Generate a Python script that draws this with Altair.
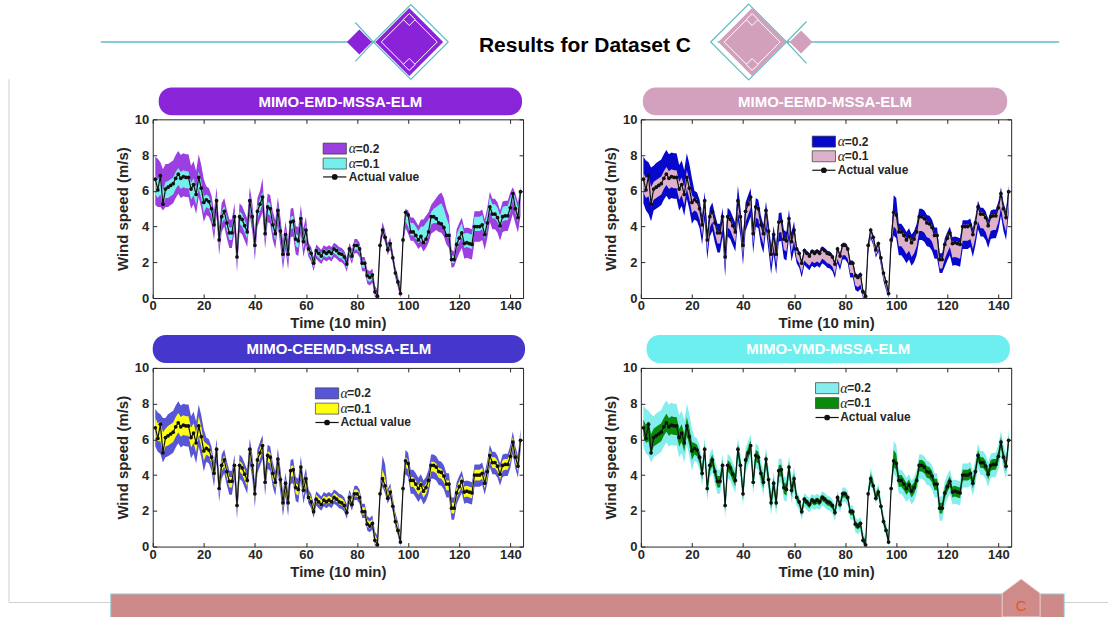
import altair as alt
import pandas as pd

# ---------------- data ----------------
t_actual = list(range(1, 145))
actual = [
    6.65, 6.05, 6.85, 5.25, 6.10, 6.20, 6.30, 6.40, 6.70, 6.93,
    6.70, 6.80, 6.75, 6.75, 6.10, 6.35, 5.80, 6.75, 6.15, 5.35,
    5.50, 5.40, 5.00, 4.10, 5.45, 3.25, 4.55, 4.85, 4.20, 3.65,
    3.65, 4.55, 2.30, 4.55, 4.40, 4.05, 3.70, 5.45, 4.55, 2.95,
    4.85, 5.25, 5.65, 3.60, 5.10, 5.00, 4.10, 3.60, 4.90, 3.75,
    2.45, 3.55, 2.45, 4.25, 4.30, 3.30, 3.20, 4.45, 3.15, 3.80,
    2.75, 2.50, 1.95, 2.65, 2.50, 2.35, 2.60, 2.50, 2.60, 2.50,
    2.75, 2.65, 2.50, 2.45, 2.30, 1.90, 2.75, 2.35, 2.95, 2.95,
    2.75, 1.95, 1.95, 1.25, 1.15, 1.30, 0.35, 0.10, 2.95, 3.80,
    3.40, 2.70, 3.05, 2.25, 1.40, 0.90, 0.25, 3.25, 4.80, 4.65,
    3.70, 3.70, 3.50, 3.25, 3.45, 3.10, 3.30, 3.70, 4.55, 4.55,
    4.45, 4.20, 4.15, 3.95, 3.50, 3.50, 2.15, 2.15, 3.00, 3.35,
    3.65, 3.05, 3.10, 3.05, 3.00, 4.00, 4.00, 4.00, 4.10, 3.55,
    4.20, 5.10, 4.70, 4.70, 4.50, 4.05, 4.55, 4.60, 4.60, 5.05,
    5.85, 5.00, 4.50, 5.95,
]

# MIMO-EMD-MSSA-ELM
p1_hi2 = [7.9, 7.8, 7.6, 7.2, 7.5, 7.5, 7.6, 7.7, 8.0, 8.23, 8.0, 8.1, 8.05, 8.05, 7.4, 7.65, 7.1, 8.05, 7.45, 6.65,
          6.25, 6.15, 5.75, 4.85, 6.2, 4.0, 5.3, 5.6, 4.95, 4.4, 4.4, 5.3, 3.05, 5.3, 5.15, 4.8, 4.45, 6.2, 5.3, 3.7,
          5.6, 6.0, 6.7, 4.35, 5.85, 5.75, 4.85, 4.35, 5.65, 4.5, 3.2, 4.3, 3.2, 5.0, 5.05, 4.05, 3.95, 5.2, 3.9, 4.55,
          3.1, 2.85, 2.3, 3.0, 2.85, 2.7, 2.95, 2.85, 2.95, 2.85, 3.1, 3.0, 2.85, 2.8, 2.65, 2.25, 3.1, 2.7, 3.3, 3.3,
          3.1, 2.3, 2.3, 1.6, 1.5, 1.65,
          0.7, 0.45, 3.3, 4.25, 3.75, 3.05, 3.4, 2.6, 1.75, 1.25, 0.6, 3.6,
          5.0, 4.9, 4.5, 4.5, 4.3, 4.05, 4.4, 4.4, 4.6, 4.8, 5.2, 5.4, 5.6, 5.8, 5.9, 5.6, 5.0, 4.6,
          2.7, 2.6, 3.85, 4.2, 4.5, 3.9, 3.95, 3.9, 3.85, 4.85, 4.85, 4.85, 4.95, 4.4, 5.05, 5.95, 5.55, 5.55, 5.35, 4.9,
          5.4, 5.45, 5.45, 5.9, 6.2, 5.85, 5.35, 6.2]
p1_hi1 = [6.9, 6.6, 6.9, 6.0, 6.5, 6.55, 6.65, 6.75, 7.05, 7.28, 7.05, 7.15, 7.1, 7.1, 6.45, 6.7, 6.15, 7.1, 6.5, 5.7,
          5.8, 5.7, 5.3, 4.4, 5.75, 3.55, 4.85, 5.15, 4.5, 3.95, 3.95, 4.85, 2.6, 4.85, 4.7, 4.35, 4.0, 5.75, 4.85, 3.25,
          5.15, 5.55, 5.95, 3.9, 5.4, 5.3, 4.4, 3.9, 5.2, 4.05, 2.75, 3.85, 2.75, 4.55, 4.6, 3.6, 3.5, 4.75, 3.45, 4.1,
          2.9, 2.65, 2.1, 2.8, 2.65, 2.5, 2.75, 2.65, 2.75, 2.65, 2.9, 2.8, 2.65, 2.6, 2.45, 2.05, 2.9, 2.5, 3.1, 3.1,
          2.9, 2.1, 2.1, 1.4, 1.3, 1.45,
          0.5, 0.25, 3.1, 3.95, 3.55, 2.85, 3.2, 2.4, 1.55, 1.05, 0.4, 3.4,
          4.85, 4.7, 4.2, 4.2, 4.0, 3.75, 4.0, 4.0, 4.2, 4.4, 4.8, 5.0, 5.1, 5.2, 5.3, 5.0, 4.5, 4.1,
          2.4, 2.35, 3.55, 3.9, 4.2, 3.6, 3.65, 3.6, 3.55, 4.55, 4.55, 4.55, 4.65, 4.1, 4.75, 5.65, 5.25, 5.25, 5.05, 4.6,
          5.1, 5.15, 5.15, 5.6, 6.0, 5.55, 5.05, 6.05]
p1_lo1 = [5.8, 5.6, 5.8, 5.2, 5.6, 5.6, 5.7, 5.8, 6.1, 6.33, 6.1, 6.2, 6.15, 6.15, 5.5, 5.75, 5.2, 6.15, 5.55, 4.75,
          5.1, 5.0, 4.6, 3.7, 5.05, 2.85, 4.15, 4.45, 3.8, 3.25, 3.25, 4.15, 1.9, 4.15, 4.0, 3.65, 3.3, 5.05, 4.15, 2.55,
          4.45, 4.85, 5.25, 3.2, 4.7, 4.6, 3.7, 3.2, 4.5, 3.35, 2.05, 3.15, 2.05, 3.85, 3.9, 2.9, 2.8, 4.05, 2.75, 3.4,
          2.5, 2.25, 1.7, 2.4, 2.25, 2.1, 2.35, 2.25, 2.35, 2.25, 2.5, 2.4, 2.25, 2.2, 2.05, 1.65, 2.5, 2.1, 2.7, 2.7,
          2.5, 1.7, 1.7, 1.0, 0.9, 1.05,
          0.2, 0.0, 2.8, 3.65, 3.25, 2.55, 2.9, 2.1, 1.25, 0.75, 0.1, 3.1,
          4.3, 4.0, 3.5, 3.5, 3.3, 3.05, 3.25, 2.95, 3.15, 3.5, 4.1, 4.2, 4.2, 4.15, 4.1, 3.9, 3.45, 3.3,
          1.95, 1.95, 2.75, 3.1, 3.4, 2.8, 2.85, 2.8, 2.75, 3.75, 3.75, 3.75, 3.85, 3.3, 3.95, 4.85, 4.45, 4.45, 4.25, 3.8,
          4.3, 4.35, 4.35, 4.8, 5.5, 4.75, 4.25, 5.6]
p1_lo2 = [5.2, 5.1, 5.1, 4.9, 5.1, 5.1, 5.2, 5.3, 5.6, 5.83, 5.6, 5.7, 5.65, 5.65, 5.0, 5.25, 4.7, 5.65, 5.05, 4.25,
          4.65, 4.55, 4.15, 3.25, 4.6, 2.4, 3.7, 4.0, 3.35, 2.8, 2.8, 3.7, 1.45, 3.7, 3.55, 3.2, 2.85, 4.6, 3.7, 2.1,
          4.0, 4.4, 4.8, 2.75, 4.25, 4.15, 3.25, 2.75, 4.05, 2.9, 1.6, 2.7, 1.6, 3.4, 3.45, 2.45, 2.35, 3.6, 2.3, 2.95,
          2.3, 2.05, 1.5, 2.2, 2.05, 1.9, 2.15, 2.05, 2.15, 2.05, 2.3, 2.2, 2.05, 2.0, 1.85, 1.45, 2.3, 1.9, 2.5, 2.5,
          2.3, 1.5, 1.5, 0.8, 0.7, 0.85,
          0.05, 0.0, 2.65, 3.5, 3.1, 2.4, 2.75, 1.95, 1.1, 0.6, 0.0, 2.95,
          3.9, 3.6, 3.2, 3.2, 3.0, 2.75, 2.9, 2.6, 2.8, 3.1, 3.6, 3.7, 3.8, 3.7, 3.65, 3.45, 3.0, 2.8,
          1.7, 1.75, 2.15, 2.5, 2.8, 2.2, 2.25, 2.2, 2.15, 3.15, 3.15, 3.15, 3.25, 2.7, 3.35, 4.25, 3.85, 3.85, 3.65, 3.2,
          3.7, 3.75, 3.75, 4.2, 4.7, 4.15, 3.65, 4.6]

# MIMO-EEMD-MSSA-ELM
p2_hi2 = [7.9, 7.7, 7.6, 7.3, 7.4, 7.55, 7.65, 7.75, 8.05, 8.28, 8.05, 8.15, 8.1, 8.1, 7.45, 7.7, 7.15, 8.1, 7.5, 6.7,
          6.0, 5.9, 5.5, 4.6, 5.95, 3.75, 5.05, 5.35, 4.7, 4.15, 4.15, 5.05, 2.8, 5.05, 4.9, 4.55, 4.2, 6.3, 5.05, 3.45,
          5.35, 5.75, 6.15, 4.1, 5.6, 5.5, 4.6, 4.1, 5.4, 4.25, 2.95, 4.05, 2.95, 4.75, 4.8, 3.8, 3.7, 4.95, 3.65, 4.3,
          2.9, 2.65, 2.1, 2.8, 2.65, 2.5, 2.75, 2.65, 2.75, 2.65, 2.9, 2.8, 2.65, 2.6, 2.45, 2.05, 2.9, 2.5, 3.1, 3.1,
          2.9, 2.1, 2.1, 1.4, 1.3, 1.45,
          0.5, 0.25, 3.1, 3.95, 3.55, 2.85, 3.2, 2.4, 1.55, 1.05, 0.4, 3.4,
          5.75, 5.6, 4.15, 4.15, 3.95, 3.7, 3.9, 3.55, 3.75, 4.15, 5.0, 5.0, 4.9, 4.65, 4.6, 4.4, 3.95, 3.95,
          2.5, 2.5, 3.35, 3.7, 4.0, 3.4, 3.45, 3.4, 3.35, 4.35, 4.35, 4.35, 4.45, 3.9, 4.55, 5.45, 5.05, 5.05, 4.85, 4.4,
          4.9, 4.95, 4.95, 5.4, 6.2, 5.35, 4.85, 6.3]
p2_hi1 = [7.0, 6.7, 6.9, 6.2, 6.5, 6.6, 6.7, 6.8, 7.1, 7.33, 7.1, 7.2, 7.15, 7.15, 6.5, 6.75, 6.2, 7.15, 6.55, 5.75,
          5.6, 5.5, 5.1, 4.2, 5.55, 3.35, 4.65, 4.95, 4.3, 3.75, 3.75, 4.65, 2.4, 4.65, 4.5, 4.15, 3.8, 5.55, 4.65, 3.05,
          4.95, 5.35, 5.75, 3.7, 5.2, 5.1, 4.2, 3.7, 5.0, 3.85, 2.55, 3.65, 2.55, 4.35, 4.4, 3.4, 3.3, 4.55, 3.25, 3.9,
          2.8, 2.55, 2.0, 2.7, 2.55, 2.4, 2.65, 2.55, 2.65, 2.55, 2.8, 2.7, 2.55, 2.5, 2.35, 1.95, 2.8, 2.4, 3.0, 3.0,
          2.8, 2.0, 2.0, 1.3, 1.2, 1.35,
          0.4, 0.15, 3.0, 3.85, 3.45, 2.75, 3.1, 2.3, 1.45, 0.95, 0.3, 3.3,
          4.9, 4.75, 3.8, 3.8, 3.6, 3.35, 3.55, 3.2, 3.4, 3.8, 4.65, 4.65, 4.55, 4.3, 4.25, 4.05, 3.6, 3.6,
          2.25, 2.25, 3.1, 3.45, 3.75, 3.15, 3.2, 3.15, 3.1, 4.1, 4.1, 4.1, 4.2, 3.65, 4.3, 5.2, 4.8, 4.8, 4.6, 4.15,
          4.65, 4.7, 4.7, 5.15, 5.95, 5.1, 4.6, 6.05]
p2_lo1 = [5.9, 5.6, 5.7, 5.1, 5.5, 5.6, 5.7, 5.8, 6.1, 6.33, 6.1, 6.2, 6.15, 6.15, 5.5, 5.75, 5.2, 6.15, 5.55, 4.75,
          4.9, 4.8, 4.4, 3.5, 4.85, 2.65, 3.95, 4.25, 3.6, 3.05, 3.05, 3.95, 1.7, 3.95, 3.8, 3.45, 3.1, 4.85, 3.95, 2.35,
          4.25, 4.65, 5.05, 3.0, 4.5, 4.4, 3.5, 3.0, 4.3, 3.15, 1.85, 2.95, 1.85, 3.65, 3.7, 2.7, 2.6, 3.85, 2.55, 3.2,
          2.2, 1.95, 1.4, 2.1, 1.95, 1.8, 2.05, 1.95, 2.05, 1.95, 2.2, 2.1, 1.95, 1.9, 1.75, 1.35, 2.2, 1.8, 2.4, 2.4,
          2.2, 1.4, 1.4, 0.7, 0.6, 0.75,
          0.05, 0.0, 2.65, 3.5, 3.1, 2.4, 2.75, 1.95, 1.1, 0.6, 0.0, 2.95,
          4.0, 3.85, 2.9, 2.9, 2.7, 2.45, 2.65, 2.3, 2.5, 2.9, 3.75, 3.75, 3.65, 3.4, 3.35, 3.15, 2.7, 2.7,
          1.65, 1.65, 2.2, 2.55, 2.85, 2.25, 2.3, 2.25, 2.2, 3.2, 3.2, 3.2, 3.3, 2.75, 3.4, 4.3, 3.9, 3.9, 3.7, 3.25,
          3.75, 3.8, 3.8, 4.25, 5.05, 4.2, 3.7, 5.15]
p2_lo2 = [5.3, 4.9, 4.7, 4.3, 4.9, 5.0, 5.1, 5.2, 5.5, 5.73, 5.5, 5.6, 5.55, 5.55, 4.9, 5.15, 4.6, 5.55, 4.95, 4.15,
          4.4, 4.3, 3.9, 3.0, 4.35, 2.15, 3.45, 3.75, 3.1, 2.55, 2.55, 3.45, 1.2, 3.45, 3.3, 2.95, 2.6, 4.35, 3.45, 1.85,
          3.75, 4.15, 4.55, 2.5, 4.0, 3.9, 3.0, 2.5, 3.8, 2.65, 1.35, 2.45, 1.35, 3.15, 3.2, 2.2, 2.1, 3.35, 2.05, 2.7,
          1.95, 1.7, 1.15, 1.85, 1.7, 1.55, 1.8, 1.7, 1.8, 1.7, 1.95, 1.85, 1.7, 1.65, 1.5, 1.1, 1.95, 1.55, 2.15, 2.15,
          1.95, 1.15, 1.15, 0.45, 0.35, 0.5,
          0.0, 0.0, 2.5, 3.35, 2.95, 2.25, 2.6, 1.8, 0.95, 0.45, 0.0, 2.8,
          3.5, 3.35, 2.4, 2.4, 2.2, 1.95, 2.15, 1.8, 2.0, 2.4, 3.25, 3.25, 3.15, 2.9, 2.85, 2.65, 2.2, 2.2,
          1.4, 1.4, 1.75, 2.1, 2.4, 1.8, 1.85, 1.8, 1.75, 2.75, 2.75, 2.75, 2.85, 2.3, 2.95, 3.85, 3.45, 3.45, 3.25, 2.8,
          3.3, 3.35, 3.35, 3.8, 4.6, 3.75, 3.25, 4.7]

# MIMO-CEEMD-MSSA-ELM
p3_hi2 = [7.7, 7.5, 7.4, 7.2, 7.2, 7.4, 7.5, 7.6, 7.9, 8.13, 7.9, 8.0, 7.95, 7.95, 7.3, 7.55, 7.0, 7.95, 7.35, 6.55,
          6.1, 6.0, 5.6, 4.7, 6.05, 3.85, 5.15, 5.45, 4.8, 4.25, 4.25, 5.15, 2.9, 5.15, 5.0, 4.65, 4.3, 6.05, 5.15, 3.55,
          5.45, 5.85, 6.25, 4.2, 5.7, 5.6, 4.7, 4.2, 5.5, 4.35, 3.05, 4.15, 3.05, 4.85, 4.9, 3.9, 3.8, 5.05, 3.75, 4.4,
          3.2, 2.95, 2.4, 3.1, 2.95, 2.8, 3.05, 2.95, 3.05, 2.95, 3.2, 3.1, 2.95, 2.9, 2.75, 2.35, 3.2, 2.8, 3.4, 3.4,
          3.2, 2.4, 2.4, 1.7, 1.6, 1.75,
          0.85, 0.6, 3.45, 5.1, 4.6, 3.2, 3.55, 2.75, 1.9, 1.4, 0.75, 3.75,
          5.4, 5.25, 4.3, 4.3, 4.1, 3.85, 4.05, 3.7, 3.9, 4.3, 5.15, 5.15, 5.05, 4.8, 4.75, 4.55, 4.1, 4.1,
          2.75, 2.75, 3.6, 3.95, 4.25, 3.65, 3.7, 3.65, 3.6, 4.6, 4.6, 4.6, 4.7, 4.15, 4.8, 5.7, 5.3, 5.3, 5.1, 4.65,
          5.15, 5.2, 5.2, 5.65, 6.45, 5.6, 5.1, 6.55]
p3_hi1 = [7.2, 6.9, 7.0, 6.4, 6.6, 6.75, 6.85, 6.95, 7.25, 7.48, 7.25, 7.35, 7.3, 7.3, 6.65, 6.9, 6.35, 7.3, 6.7, 5.9,
          5.75, 5.65, 5.25, 4.35, 5.7, 3.5, 4.8, 5.1, 4.45, 3.9, 3.9, 4.8, 2.55, 4.8, 4.65, 4.3, 3.95, 5.7, 4.8, 3.2,
          5.1, 5.5, 5.9, 3.85, 5.35, 5.25, 4.35, 3.85, 5.15, 4.0, 2.7, 3.8, 2.7, 4.5, 4.55, 3.55, 3.45, 4.7, 3.4, 4.05,
          3.0, 2.75, 2.2, 2.9, 2.75, 2.6, 2.85, 2.75, 2.85, 2.75, 3.0, 2.9, 2.75, 2.7, 2.55, 2.15, 3.0, 2.6, 3.2, 3.2,
          3.0, 2.2, 2.2, 1.5, 1.4, 1.55,
          0.65, 0.4, 3.25, 4.3, 3.85, 3.0, 3.35, 2.55, 1.7, 1.2, 0.55, 3.55,
          5.0, 4.85, 3.9, 3.9, 3.7, 3.45, 3.65, 3.3, 3.5, 3.9, 4.75, 4.75, 4.65, 4.4, 4.35, 4.15, 3.7, 3.7,
          2.45, 2.45, 3.3, 3.65, 3.95, 3.35, 3.4, 3.35, 3.3, 4.3, 4.3, 4.3, 4.4, 3.85, 4.5, 5.4, 5.0, 5.0, 4.8, 4.35,
          4.85, 4.9, 4.9, 5.35, 6.15, 5.3, 4.8, 6.25]
p3_lo1 = [6.1, 5.9, 5.9, 5.2, 5.6, 5.65, 5.75, 5.85, 6.15, 6.38, 6.15, 6.25, 6.2, 6.2, 5.55, 5.8, 5.25, 6.2, 5.6, 4.8,
          5.15, 5.05, 4.65, 3.75, 5.1, 2.9, 4.2, 4.5, 3.85, 3.3, 3.3, 4.2, 1.95, 4.2, 4.05, 3.7, 3.35, 5.1, 4.2, 2.6,
          4.5, 4.9, 5.3, 3.25, 4.75, 4.65, 3.75, 3.25, 4.55, 3.4, 2.1, 3.2, 2.1, 3.9, 3.95, 2.95, 2.85, 4.1, 2.8, 3.45,
          2.6, 2.35, 1.8, 2.5, 2.35, 2.2, 2.45, 2.35, 2.45, 2.35, 2.6, 2.5, 2.35, 2.3, 2.15, 1.75, 2.6, 2.2, 2.8, 2.8,
          2.6, 1.8, 1.8, 1.1, 1.0, 1.15,
          0.2, 0.0, 2.8, 3.6, 3.15, 2.55, 2.9, 2.1, 1.25, 0.75, 0.1, 3.1,
          4.45, 4.3, 3.35, 3.35, 3.15, 2.9, 3.1, 2.75, 2.95, 3.35, 4.2, 4.2, 4.1, 3.85, 3.8, 3.6, 3.15, 3.15,
          1.85, 1.85, 2.7, 3.05, 3.35, 2.75, 2.8, 2.75, 2.7, 3.7, 3.7, 3.7, 3.8, 3.25, 3.9, 4.8, 4.4, 4.4, 4.2, 3.75,
          4.25, 4.3, 4.3, 4.75, 5.55, 4.7, 4.2, 5.65]
p3_lo2 = [5.6, 5.3, 5.2, 4.7, 5.0, 5.05, 5.15, 5.25, 5.55, 5.78, 5.55, 5.65, 5.6, 5.6, 4.95, 5.2, 4.65, 5.6, 5.0, 4.2,
          4.75, 4.65, 4.25, 3.35, 4.7, 2.5, 3.8, 4.1, 3.45, 2.9, 2.9, 3.8, 1.55, 3.8, 3.65, 3.3, 2.95, 4.7, 3.8, 2.2,
          4.1, 4.5, 4.9, 2.85, 4.35, 4.25, 3.35, 2.85, 4.15, 3.0, 1.7, 2.8, 1.7, 3.5, 3.55, 2.55, 2.45, 3.7, 2.4, 3.05,
          2.4, 2.15, 1.6, 2.3, 2.15, 2.0, 2.25, 2.15, 2.25, 2.15, 2.4, 2.3, 2.15, 2.1, 1.95, 1.55, 2.4, 2.0, 2.6, 2.6,
          2.4, 1.6, 1.6, 0.9, 0.8, 0.95,
          0.05, 0.0, 2.65, 3.35, 2.95, 2.4, 2.75, 1.95, 1.1, 0.6, 0.0, 2.95,
          4.05, 3.9, 2.95, 2.95, 2.75, 2.5, 2.7, 2.35, 2.55, 2.95, 3.8, 3.8, 3.7, 3.45, 3.4, 3.2, 2.75, 2.75,
          1.5, 1.5, 2.35, 2.7, 3.0, 2.4, 2.45, 2.4, 2.35, 3.35, 3.35, 3.35, 3.45, 2.9, 3.55, 4.45, 4.05, 4.05, 3.85, 3.4,
          3.9, 3.95, 3.95, 4.4, 5.2, 4.35, 3.85, 5.3]

# MIMO-VMD-MSSA-ELM
p4_hi2 = [7.9, 7.7, 7.6, 7.4, 7.3, 7.45, 7.55, 7.65, 7.95, 8.18, 7.95, 8.05, 8.0, 8.0, 7.35, 7.6, 7.05, 8.0, 7.4, 6.6,
          6.15, 6.05, 5.65, 4.75, 6.1, 3.9, 5.2, 5.5, 4.85, 4.3, 4.3, 5.2, 2.95, 5.2, 5.05, 4.7, 4.35, 6.1, 5.2, 3.6,
          5.5, 5.9, 6.3, 4.25, 5.75, 5.65, 4.75, 4.25, 5.55, 4.4, 3.1, 4.2, 3.1, 4.9, 4.95, 3.95, 3.85, 5.1, 3.8, 4.45,
          3.1, 2.85, 2.3, 3.0, 2.85, 2.7, 2.95, 2.85, 2.95, 2.85, 3.1, 3.0, 2.85, 2.8, 2.65, 2.25, 3.1, 2.7, 3.3, 3.3,
          3.1, 2.3, 2.3, 1.6, 1.5, 1.65,
          0.8, 0.55, 3.4, 4.4, 3.85, 3.15, 3.5, 2.7, 1.85, 1.35, 0.7, 3.7,
          5.9, 5.7, 4.3, 4.3, 4.1, 3.85, 4.05, 3.7, 3.9, 4.3, 5.15, 5.15, 5.05, 4.8, 4.75, 4.55, 4.1, 4.1,
          2.8, 2.8, 3.65, 4.0, 4.3, 3.7, 3.75, 3.7, 3.65, 4.65, 4.65, 4.65, 4.75, 4.2, 4.85, 5.75, 5.35, 5.35, 5.15, 4.7,
          5.2, 5.25, 5.25, 5.7, 6.5, 5.65, 5.15, 6.6]
p4_hi1 = [7.1, 6.8, 7.0, 6.3, 6.6, 6.7, 6.8, 6.9, 7.2, 7.43, 7.2, 7.3, 7.25, 7.25, 6.6, 6.85, 6.3, 7.25, 6.65, 5.85,
          5.8, 5.7, 5.3, 4.4, 5.75, 3.55, 4.85, 5.15, 4.5, 3.95, 3.95, 4.85, 2.6, 4.85, 4.7, 4.35, 4.0, 5.75, 4.85, 3.25,
          5.15, 5.55, 5.95, 3.9, 5.4, 5.3, 4.4, 3.9, 5.2, 4.05, 2.75, 3.85, 2.75, 4.55, 4.6, 3.6, 3.5, 4.75, 3.45, 4.1,
          2.9, 2.65, 2.1, 2.8, 2.65, 2.5, 2.75, 2.65, 2.75, 2.65, 2.9, 2.8, 2.65, 2.6, 2.45, 2.05, 2.9, 2.5, 3.1, 3.1,
          2.9, 2.1, 2.1, 1.4, 1.3, 1.45,
          0.6, 0.35, 3.2, 4.1, 3.65, 2.95, 3.3, 2.5, 1.65, 1.15, 0.5, 3.5,
          5.4, 5.2, 4.0, 4.0, 3.8, 3.55, 3.75, 3.4, 3.6, 4.0, 4.85, 4.85, 4.75, 4.5, 4.45, 4.25, 3.8, 3.8,
          2.45, 2.45, 3.3, 3.65, 3.95, 3.35, 3.4, 3.35, 3.3, 4.3, 4.3, 4.3, 4.4, 3.85, 4.5, 5.4, 5.0, 5.0, 4.8, 4.35,
          4.85, 4.9, 4.9, 5.35, 6.15, 5.3, 4.8, 6.25]
p4_lo1 = [6.2, 5.8, 5.9, 5.1, 5.6, 5.7, 5.8, 5.9, 6.2, 6.43, 6.2, 6.3, 6.25, 6.25, 5.6, 5.85, 5.3, 6.25, 5.65, 4.85,
          5.15, 5.05, 4.65, 3.75, 5.1, 2.9, 4.2, 4.5, 3.85, 3.3, 3.3, 4.2, 1.95, 4.2, 4.05, 3.7, 3.35, 5.1, 4.2, 2.6,
          4.5, 4.9, 5.3, 3.25, 4.75, 4.65, 3.75, 3.25, 4.55, 3.4, 2.1, 3.2, 2.1, 3.9, 3.95, 2.95, 2.85, 4.1, 2.8, 3.45,
          2.55, 2.3, 1.75, 2.45, 2.3, 2.15, 2.4, 2.3, 2.4, 2.3, 2.55, 2.45, 2.3, 2.25, 2.1, 1.7, 2.55, 2.15, 2.75, 2.75,
          2.55, 1.75, 1.75, 1.05, 0.95, 1.1,
          0.2, 0.0, 2.8, 3.6, 3.25, 2.55, 2.9, 2.1, 1.25, 0.75, 0.1, 3.1,
          4.45, 4.3, 3.35, 3.35, 3.15, 2.9, 3.1, 2.75, 2.95, 3.35, 4.2, 4.2, 4.1, 3.85, 3.8, 3.6, 3.15, 3.15,
          1.85, 1.85, 2.7, 3.05, 3.35, 2.75, 2.8, 2.75, 2.7, 3.7, 3.7, 3.7, 3.8, 3.25, 3.9, 4.8, 4.4, 4.4, 4.2, 3.75,
          4.25, 4.3, 4.3, 4.75, 5.55, 4.7, 4.2, 5.65]
p4_lo2 = [5.6, 5.2, 5.1, 4.7, 5.0, 5.1, 5.2, 5.3, 5.6, 5.83, 5.6, 5.7, 5.65, 5.65, 5.0, 5.25, 4.7, 5.65, 5.05, 4.25,
          4.8, 4.7, 4.3, 3.4, 4.75, 2.55, 3.85, 4.15, 3.5, 2.95, 2.95, 3.85, 1.6, 3.85, 3.7, 3.35, 3.0, 4.75, 3.85, 2.25,
          4.15, 4.55, 4.95, 2.9, 4.4, 4.3, 3.4, 2.9, 4.2, 3.05, 1.75, 2.85, 1.75, 3.55, 3.6, 2.6, 2.5, 3.75, 2.45, 3.1,
          2.3, 2.05, 1.5, 2.2, 2.05, 1.9, 2.15, 2.05, 2.15, 2.05, 2.3, 2.2, 2.05, 2.0, 1.85, 1.45, 2.3, 1.9, 2.5, 2.5,
          2.3, 1.5, 1.5, 0.8, 0.7, 0.85,
          0.05, 0.0, 2.65, 3.4, 3.1, 2.4, 2.75, 1.95, 1.1, 0.6, 0.0, 2.95,
          4.05, 3.9, 2.95, 2.95, 2.75, 2.5, 2.7, 2.35, 2.55, 2.95, 3.8, 3.8, 3.7, 3.45, 3.4, 3.2, 2.75, 2.75,
          1.45, 1.45, 2.3, 2.65, 2.95, 2.35, 2.4, 2.35, 2.3, 3.3, 3.3, 3.3, 3.4, 2.85, 3.5, 4.4, 4.0, 4.0, 3.8, 3.35,
          3.85, 3.9, 3.9, 4.35, 5.15, 4.3, 3.8, 5.25]

panel_names = ["MIMO-EMD-MSSA-ELM", "MIMO-EEMD-MSSA-ELM", "MIMO-CEEMD-MSSA-ELM", "MIMO-VMD-MSSA-ELM"]
legend_labels = ["=0.2", "=0.1", "Actual value"]
x_ticks = [0, 20, 40, 60, 80, 100, 120, 140]
y_ticks = [0, 2, 4, 6, 8, 10]

for nm, arr in [("p1_hi2", p1_hi2), ("p1_hi1", p1_hi1), ("p1_lo1", p1_lo1), ("p1_lo2", p1_lo2),
                ("p2_hi2", p2_hi2), ("p2_hi1", p2_hi1), ("p2_lo1", p2_lo1), ("p2_lo2", p2_lo2),
                ("p3_hi2", p3_hi2), ("p3_hi1", p3_hi1), ("p3_lo1", p3_lo1), ("p3_lo2", p3_lo2),
                ("p4_hi2", p4_hi2), ("p4_hi1", p4_hi1), ("p4_lo1", p4_lo1), ("p4_lo2", p4_lo2)]:
    if len(arr) != len(t_actual):
        raise ValueError(f"{nm} has {len(arr)} values")

# ---------------- style ----------------
FONT = "Liberation Sans"
INK = "#262626"
W, H = 371, 179
ONE = pd.DataFrame({"k": [0]})


def r_rect(x1, y1, x2, y2, **kw):
    return alt.Chart(ONE).mark_rect(**kw).encode(
        x=alt.value(x1), x2=alt.value(x2), y=alt.value(y1), y2=alt.value(y2))


def r_rule(x1, y1, x2, y2, **kw):
    return alt.Chart(ONE).mark_rule(**kw).encode(
        x=alt.value(x1), x2=alt.value(x2), y=alt.value(y1), y2=alt.value(y2))


def r_sym(x, y, **kw):
    return alt.Chart(ONE).mark_point(**kw).encode(x=alt.value(x), y=alt.value(y))


def r_text(x, y, s, **kw):
    return alt.Chart(ONE).mark_text(**kw).encode(x=alt.value(x), y=alt.value(y), text=alt.value(s))


def tick_axis(orient, values):
    return alt.Axis(orient=orient, values=values, labels=False, domain=False, ticks=True,
                    tickSize=4, offset=-4, tickColor=INK, tickWidth=1, grid=False,
                    title=None, zindex=1)


def panel(idx, hi2, hi1, lo1, lo2, outer_col, inner_col, pill_col, pill_box, leg, extras_before, extras_after):
    band = pd.DataFrame({"t": t_actual, "hi2": hi2, "hi1": hi1, "lo1": lo1, "lo2": lo2})
    act = pd.DataFrame({"t": t_actual, "v": actual})
    xs = alt.Scale(domain=[0, 145], nice=False, zero=False)
    ys = alt.Scale(domain=[0, 10], nice=False, zero=False)

    outer = alt.Chart(band).mark_area(color=outer_col, opacity=1).encode(
        x=alt.X("t:Q", scale=xs, axis=tick_axis("top", x_ticks)),
        y=alt.Y("lo2:Q", scale=ys, axis=tick_axis("right", y_ticks)),
        y2="hi2:Q")
    inner = alt.Chart(band).mark_area(color=inner_col, opacity=1).encode(
        x=alt.X("t:Q", scale=xs, axis=None),
        y=alt.Y("lo1:Q", scale=ys, axis=None),
        y2="hi1:Q")
    line = alt.Chart(act).mark_line(color="#111111", strokeWidth=1.2).encode(
        x=alt.X("t:Q", scale=xs, axis=alt.Axis(
            orient="bottom", values=x_ticks, format="d", domain=False, tickSize=4, offset=-4,
            tickColor=INK, tickWidth=1, labelFont=FONT, labelFontSize=13, labelFontWeight="bold",
            labelColor=INK, labelPadding=2, labelFlush=False, title="Time (10 min)",
            titleFont=FONT, titleFontSize=15, titleFontWeight="bold", titleColor=INK,
            titlePadding=3, grid=False, zindex=1)),
        y=alt.Y("v:Q", scale=ys, axis=alt.Axis(
            orient="left", values=y_ticks, format="d", domain=False, tickSize=4, offset=-4,
            tickColor=INK, tickWidth=1, labelFont=FONT, labelFontSize=13, labelFontWeight="bold",
            labelColor=INK, labelPadding=4, labelFlush=False, title="Wind speed (m/s)",
            titleFont=FONT, titleFontSize=15, titleFontWeight="bold", titleColor=INK,
            titlePadding=4, grid=False, zindex=1)))
    pts = alt.Chart(act).mark_circle(color="#111111", size=14, opacity=1).encode(
        x=alt.X("t:Q", scale=xs, axis=None), y=alt.Y("v:Q", scale=ys, axis=None))

    # legend drawn by hand (MATLAB style)
    lx1, lx2, r1, r2, r3, tx = leg
    hh = 5.5
    legend_layers = [
        r_rect(lx1, r1 - hh, lx2, r1 + hh, fill=outer_col, stroke="#3a3a3a", strokeWidth=0.7),
        r_rect(lx1, r2 - hh, lx2, r2 + hh, fill=inner_col, stroke="#3a3a3a", strokeWidth=0.7),
        r_rule(lx1, r3, lx2, r3, color="#111111", strokeWidth=1.2),
        r_sym((lx1 + lx2) / 2, r3, shape="circle", filled=True, fill="#111111", stroke="#111111",
              size=14, opacity=1),
        r_text(tx, r1 + 0.5, "\u03b1", font="Liberation Serif", fontStyle="italic", fontSize=14,
               align="left", baseline="middle", color=INK),
        r_text(tx + 7, r1, legend_labels[0], font=FONT, fontWeight="bold", fontSize=12,
               align="left", baseline="middle", color=INK),
        r_text(tx, r2 + 0.5, "\u03b1", font="Liberation Serif", fontStyle="italic", fontSize=14,
               align="left", baseline="middle", color=INK),
        r_text(tx + 7, r2, legend_labels[1], font=FONT, fontWeight="bold", fontSize=12,
               align="left", baseline="middle", color=INK),
        r_text(tx, r3, legend_labels[2], font=FONT, fontWeight="bold", fontSize=12,
               align="left", baseline="middle", color=INK),
    ]
    px1, py1, px2, py2 = pill_box
    pill_layers = [
        r_rect(px1, py1, px2, py2, fill=pill_col, cornerRadius=13),
        r_text((px1 + px2) / 2, (py1 + py2) / 2 + 0.5, panel_names[idx], font=FONT, fontWeight="bold",
               fontSize=15, align="center", baseline="middle", color="white"),
    ]
    layers = extras_before + [outer, inner, line, pts] + legend_layers + pill_layers + extras_after
    return alt.layer(*layers).resolve_axis(x="independent", y="independent").properties(width=W, height=H)


# ---------------- slide decorations ----------------
PURPLE = "#8A22D8"
PINK = "#D3A0BC"
TEAL = "#62BCC6"
O1 = (152, 118)  # panel 1 origin in page pixels


def hd(x, y):
    return x - O1[0], y - O1[1]


header = [
    # invisible frame spanning the whole page (sets the drawing extent)
    r_rect(-152, -118, 957, 499, fill="white", opacity=0),
]
lx, ly = hd(100, 40.5)
rx, _ = hd(375, 40.5)
header.append(r_rule(lx, ly, rx, ly, color=TEAL, strokeWidth=1.5))
lx, _ = hd(718, 40.5)
rx, _ = hd(1060, 40.5)
header.append(r_rule(lx, ly, rx, ly, color=TEAL, strokeWidth=1.5))
# purple group
cx, cy = hd(410.5, 40.5)
header.append(r_sym(cx, cy, shape="diamond", size=5625, filled=False, stroke=TEAL, strokeWidth=1.2, opacity=1))
vx, vy = hd(373, 40.5)
ex, ey = hd(355, 21)
header.append(r_rule(vx, vy, ex, ey, color=TEAL, strokeWidth=1.2))
ex, ey = hd(355, 60)
header.append(r_rule(vx, vy, ex, ey, color=TEAL, strokeWidth=1.2))
cx, cy = hd(409, 40.5)
header.append(r_sym(cx, cy, shape="diamond", size=4624, filled=True, fill=PURPLE, stroke=PURPLE, strokeWidth=0, opacity=1))
header.append(r_sym(cx, cy, shape="diamond", size=3136, filled=False, stroke="white", strokeWidth=1, opacity=1))
for yy in (18, 63):
    sx, sy = hd(409, yy)
    header.append(r_sym(sx, sy, shape="diamond", size=144, filled=True, fill=PURPLE, stroke="white", strokeWidth=1, opacity=1))
sx, sy = hd(359, 40.5)
header.append(r_sym(sx, sy, shape="diamond", size=625, filled=True, fill=PURPLE, stroke=PURPLE, strokeWidth=0, opacity=1))
# pink group
cx, cy = hd(749, 40.5)
header.append(r_sym(cx, cy, shape="diamond", size=5776, filled=False, stroke=TEAL, strokeWidth=1.2, opacity=1))
vx, vy = hd(787, 40.5)
ex, ey = hd(807, 20)
header.append(r_rule(vx, vy, ex, ey, color=TEAL, strokeWidth=1.2))
ex, ey = hd(807, 62)
header.append(r_rule(vx, vy, ex, ey, color=TEAL, strokeWidth=1.2))
cx, cy = hd(752.5, 40.5)
header.append(r_sym(cx, cy, shape="diamond", size=4624, filled=True, fill=PINK, stroke=PINK, strokeWidth=0, opacity=1))
header.append(r_sym(cx, cy, shape="diamond", size=3136, filled=False, stroke="white", strokeWidth=1, opacity=1))
for yy in (18, 63):
    sx, sy = hd(752.5, yy)
    header.append(r_sym(sx, sy, shape="diamond", size=144, filled=True, fill=PINK, stroke="white", strokeWidth=1, opacity=1))
sx, sy = hd(801.5, 40.5)
header.append(r_sym(sx, sy, shape="diamond", size=529, filled=True, fill=PINK, stroke=PINK, strokeWidth=0, opacity=1))
tx_, ty_ = hd(585, 45)
header.append(r_text(tx_, ty_, "Results for Dataset C", font=FONT, fontWeight="bold", fontSize=21,
                     align="center", baseline="middle", color="#000000"))

# page frame lines (panel 3 origin 152,367)
frame = [
    r_rule(-144, -289, -144, 235, color="#CFCFCF", strokeWidth=1),
    r_rule(-144, 235, 957, 235, color="#CFCFCF", strokeWidth=1),
]

# footer band (panel 4 origin 641,367)
footer = [
    r_rect(-531, 226.5, 424, 250, fill="#CD8A88"),
    r_rule(-531, 226.5, 424, 226.5, color="#8FCBD2", strokeWidth=1),
    r_rule(-531, 226.5, -531, 250, color="#8FCBD2", strokeWidth=1),
    r_rule(424, 226.5, 424, 250, color="#8FCBD2", strokeWidth=1),
    r_sym(381, 230.5, shape="M-1,1L-1,-0.25L0,-1L1,-0.25L1,1Z", size=1444, filled=True,
          fill="#CF8B89", stroke="#EBD3D3", strokeWidth=1, opacity=1),
    r_text(381, 239, "C", font=FONT, fontSize=15, align="center", baseline="middle", color="#E5561E"),
]

p1 = panel(0, p1_hi2, p1_hi1, p1_lo1, p1_lo2, "#9B3FE0", "#74EFEB", "#8A24D8",
           (6, -32, 370, -4), (170.7, 194, 29.3, 44.3, 57.7, 196.3), header, [])
p2 = panel(1, p2_hi2, p2_hi1, p2_lo1, p2_lo2, "#0808CC", "#DDB1CA", "#D3A1BD",
           (2, -32, 367, -4), (171.7, 195, 22.3, 37, 51, 197.3), [], [])
p3 = panel(2, p3_hi2, p3_hi1, p3_lo1, p3_lo2, "#5856D8", "#FFFF14", "#4637CC",
           (0, -33, 373, -5), (163, 186.3, 25.5, 40.8, 54.7, 188), frame, [])
p4 = panel(3, p4_hi2, p4_hi1, p4_lo1, p4_lo2, "#84EDED", "#0A8A0A", "#6DEFEF",
           (5.7, -33, 369.7, -5), (175, 198.3, 20.3, 35.3, 49.7, 199.7), [], footer)

chart = alt.concat(
    p1, p2, p3, p4, columns=2, spacing={"row": 70, "column": 118}, bounds="flush"
).properties(
    padding=0,
    autosize=alt.AutoSizeParams(type="pad"),
    background="white",
).configure_view(stroke=INK, strokeWidth=1)

chart.save("out.html", embed_options={"renderer": "svg", "actions": False})
